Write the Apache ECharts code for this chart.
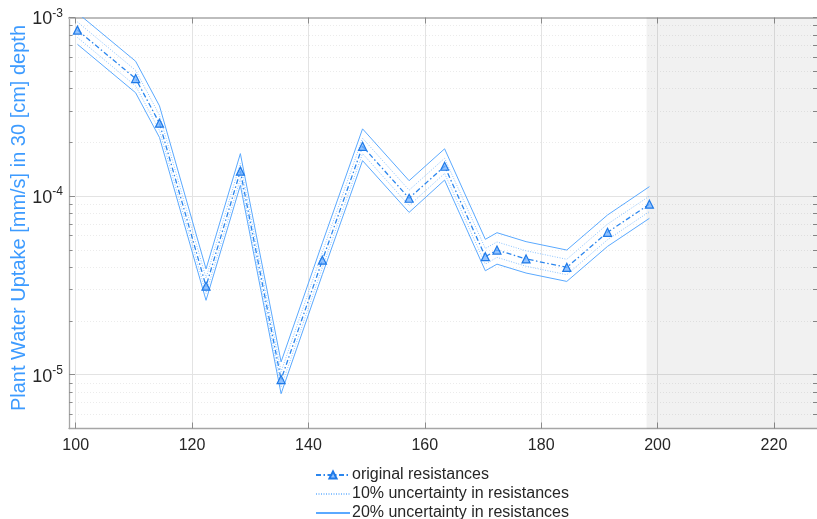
<!DOCTYPE html>
<html>
<head>
<meta charset="utf-8">
<script src="https://cdn.jsdelivr.net/npm/echarts@6/dist/echarts.min.js"></script>
<style>
html,body{margin:0;padding:0;background:#fff;}
#chart{width:817px;height:519px;}
</style>
</head>
<body>
<div id="chart"></div>
<script>
// ---- data ----
const xValues   = [100.3, 110.3, 114.4, 122.4, 128.3, 135.3, 142.4, 149.3, 157.3, 163.4, 170.4, 172.4, 177.4, 184.4, 191.4, 198.6];
const original  = [8.5e-4, 4.55e-4, 2.56e-4, 3.13e-5, 1.38e-4, 9.4e-6, 4.38e-5, 1.9e-4, 9.73e-5, 1.47e-4, 4.58e-5, 4.99e-5, 4.45e-5, 3.99e-5, 6.27e-5, 9.01e-5];
const upper10   = [9.44e-4, 5.06e-4, 2.84e-4, 3.48e-5, 1.53e-4, 1.04e-5, 4.87e-5, 2.11e-4, 1.08e-4, 1.63e-4, 5.09e-5, 5.54e-5, 4.94e-5, 4.43e-5, 6.97e-5, 1.0e-4];
const lower10   = [7.73e-4, 4.14e-4, 2.33e-4, 2.85e-5, 1.25e-4, 8.55e-6, 3.98e-5, 1.73e-4, 8.85e-5, 1.34e-4, 4.16e-5, 4.54e-5, 4.05e-5, 3.63e-5, 5.7e-5, 8.19e-5];
const upper20   = [1.06e-3, 5.69e-4, 3.2e-4, 3.91e-5, 1.73e-4, 1.18e-5, 5.48e-5, 2.38e-4, 1.22e-4, 1.84e-4, 5.73e-5, 6.24e-5, 5.56e-5, 4.99e-5, 7.84e-5, 1.13e-4];
const lower20   = [7.08e-4, 3.79e-4, 2.13e-4, 2.61e-5, 1.15e-4, 7.83e-6, 3.65e-5, 1.58e-4, 8.11e-5, 1.23e-4, 3.82e-5, 4.16e-5, 3.71e-5, 3.33e-5, 5.23e-5, 7.51e-5];
const shadedStart = 198.1;
const xTicks = [100, 120, 140, 160, 180, 200, 220];
const yMajorTicks = [1e-5, 1e-4, 1e-3];
const yMinorTicks = [6e-6, 7e-6, 8e-6, 9e-6,
  2e-5, 3e-5, 4e-5, 5e-5, 6e-5, 7e-5, 8e-5, 9e-5,
  2e-4, 3e-4, 4e-4, 5e-4, 6e-4, 7e-4, 8e-4, 9e-4];
const seriesNames = ['original resistances', '10% uncertainty in resistances', '20% uncertainty in resistances'];
const yTitle = 'Plant Water Uptake [mm/s] in 30 [cm] depth';

const pairs = arr => xValues.map((x, i) => [x, arr[i]]);
const FONT = '"Liberation Sans", Arial, Helvetica, sans-serif';
const axisGray = '#a6a6a6';

const chart = echarts.init(document.getElementById('chart'), null, {renderer: 'canvas'});

const band = (name, data, type, color) => ({
  name, type: 'line', data: pairs(data), showSymbol: false, symbol: 'none',
  xAxisIndex: 0, yAxisIndex: 0,
  lineStyle: {width: 1, type, color}, itemStyle: {color},
  z: 3, silent: true
});

chart.setOption({
  animation: false,
  textStyle: {fontFamily: FONT},
  grid: {left: 69, top: 17.5, right: 0, bottom: 90.5, outerBoundsMode: 'none', containLabel: false},
  legend: {
    data: [
      {name: seriesNames[0]},
      {name: seriesNames[1], itemStyle: {opacity: 0}},
      {name: seriesNames[2], itemStyle: {opacity: 0}}
    ],
    orient: 'vertical',
    left: 315, top: 466, height: 80, width: 300,
    itemWidth: 34, itemHeight: 9, itemGap: 1,
    padding: 0,
    textStyle: {fontSize: 16, color: '#262626', fontFamily: FONT, padding: [0, 0, 0, -3], lineHeight: 18},
    selectedMode: false
  },
  xAxis: [{
    type: 'value', min: 98.85, max: 227.4, position: 'bottom',
    axisLine: {show: true, onZero: false, lineStyle: {color: axisGray, width: 1.3}},
    axisTick: {show: true, inside: true, length: 6, customValues: xTicks, lineStyle: {color: '#8c8c8c'}},
    axisLabel: {show: true, customValues: xTicks, fontSize: 16, color: '#262626', margin: 9, fontFamily: FONT},
    splitLine: {show: true, lineStyle: {color: '#e3e3e3', width: 1}}
  }, {
    type: 'value', min: 98.85, max: 227.4, position: 'top',
    axisLine: {show: true, onZero: false, lineStyle: {color: '#bdbdbd', width: 2}},
    axisTick: {show: true, inside: true, length: 6, customValues: xTicks, lineStyle: {color: '#8c8c8c'}},
    axisLabel: {show: false},
    splitLine: {show: false}
  }],
  yAxis: [{
    type: 'log', logBase: 10, min: 5e-6, max: 1e-3, position: 'left',
    name: yTitle, nameLocation: 'middle', nameGap: 40, nameMoveOverlap: false,
    nameTextStyle: {color: '#3d9bff', fontSize: 20, fontFamily: FONT, padding: [0, 0, 0, 10]},
    axisLine: {show: true, onZero: false, lineStyle: {color: axisGray, width: 1.3}},
    axisTick: {show: true, inside: true, length: 6, customValues: yMajorTicks, lineStyle: {color: '#8c8c8c'}},
    axisLabel: {
      show: true, customValues: yMajorTicks, margin: 6,
      formatter: v => '{b|10}{s|' + Math.round(Math.log10(v)) + '}',
      rich: {
        b: {fontSize: 18, color: '#262626', fontFamily: FONT, padding: [4, 0, 0, 0]},
        s: {fontSize: 12, color: '#262626', fontFamily: FONT, padding: [0, 0, 8, 0]}
      }
    },
    splitLine: {show: true, lineStyle: {color: '#e3e3e3', width: 1}}
  }, {
    type: 'log', logBase: 10, min: 5e-6, max: 1e-3, position: 'left',
    axisLine: {show: false},
    axisTick: {show: true, inside: true, length: 3.5, customValues: yMinorTicks, lineStyle: {color: '#8c8c8c'}},
    axisLabel: {show: false},
    splitLine: {show: true, lineStyle: {color: '#ebebeb', width: 1, type: [1, 2]}}
  }, {
    type: 'log', logBase: 10, min: 5e-6, max: 1e-3, position: 'right',
    axisLine: {show: false},
    axisTick: {show: true, inside: true, length: 4, customValues: yMinorTicks.concat(yMajorTicks), lineStyle: {color: '#8c8c8c'}},
    axisLabel: {show: false},
    splitLine: {show: false}
  }],
  series: [
    {
      name: seriesNames[0], type: 'line', data: pairs(original),
      xAxisIndex: 0, yAxisIndex: 0,
      symbol: 'triangle', symbolSize: 8, showSymbol: true,
      lineStyle: {width: 1.3, type: [5, 2.5, 1.5, 2.5], color: '#2b86ee'},
      itemStyle: {color: 'rgba(110,175,255,0.75)', borderColor: '#1f7ae8', borderWidth: 1.2},
      z: 5,
      markArea: {
        silent: true,
        itemStyle: {color: 'rgba(0,0,0,0.055)'},
        data: [[{xAxis: shadedStart}, {xAxis: 227.4}]]
      }
    },
    band(seriesNames[1], upper10, [1, 1.5], '#8cc3ff'),
    band(seriesNames[1], lower10, [1, 1.5], '#8cc3ff'),
    band(seriesNames[2], upper20, 'solid', '#5aa9ff'),
    band(seriesNames[2], lower20, 'solid', '#5aa9ff')
  ]
});
</script>
</body>
</html>
